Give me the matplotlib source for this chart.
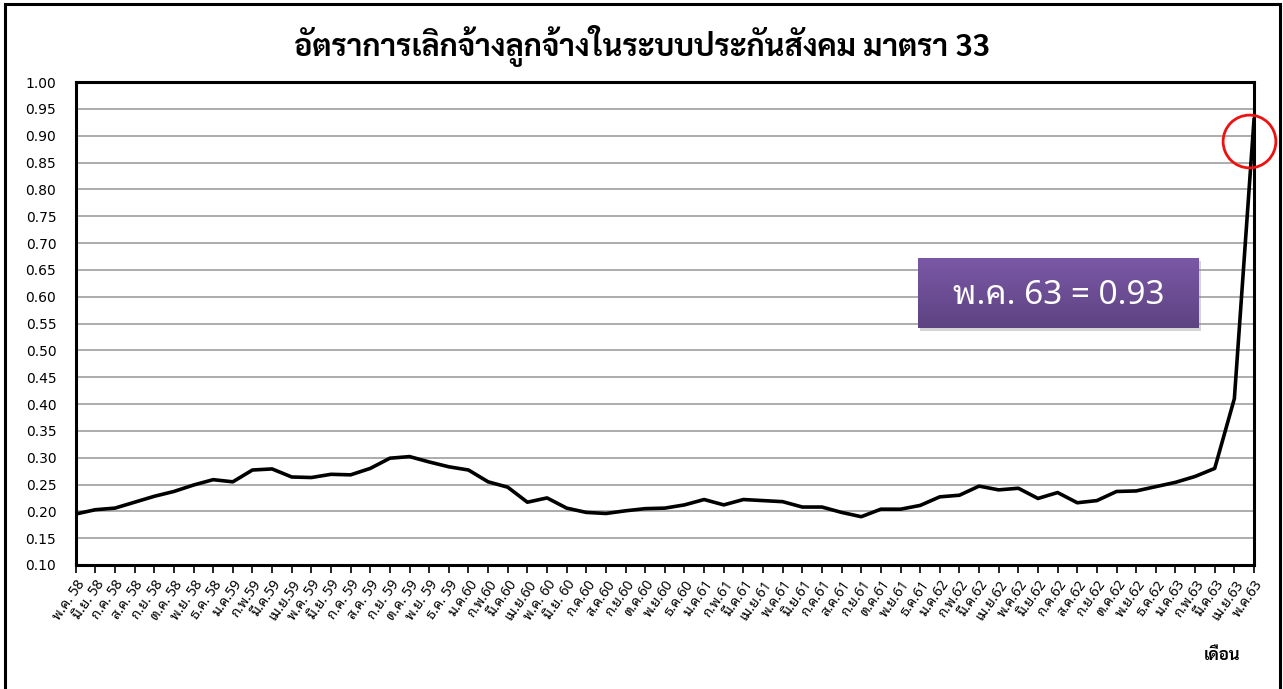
import matplotlib
matplotlib.use("Agg")
from matplotlib import pyplot as plt
from matplotlib import font_manager
from matplotlib.patches import Rectangle
import numpy as np

# monthly labels (Thai short month + Buddhist year)
months = ['พ.ค. 58', 'มิ.ย. 58', 'ก.ค. 58', 'ส.ค. 58', 'ก.ย. 58', 'ต.ค. 58', 'พ.ย. 58', 'ธ.ค. 58',
          'ม.ค.59', 'ก.พ.59', 'มี.ค.59', 'เม.ย.59', 'พ.ค. 59', 'มิ.ย. 59', 'ก.ค. 59', 'ส.ค. 59',
          'ก.ย. 59', 'ต.ค. 59', 'พ.ย. 59', 'ธ.ค. 59', 'ม.ค.60', 'ก.พ.60', 'มี.ค.60', 'เม.ย.60',
          'พ.ค. 60', 'มิ.ย. 60', 'ก.ค.60', 'ส.ค.60', 'ก.ย.60', 'ต.ค.60', 'พ.ย.60', 'ธ.ค.60',
          'ม.ค.61', 'ก.พ.61', 'มี.ค.61', 'เม.ย.61', 'พ.ค.61', 'มิ.ย.61', 'ก.ค.61', 'ส.ค.61',
          'ก.ย.61', 'ต.ค.61', 'พ.ย.61', 'ธ.ค.61', 'ม.ค.62', 'ก.พ.62', 'มี.ค.62', 'เม.ย.62',
          'พ.ค.62', 'มิ.ย.62', 'ก.ค.62', 'ส.ค.62', 'ก.ย.62', 'ต.ค.62', 'พ.ย.62', 'ธ.ค.62',
          'ม.ค.63', 'ก.พ.63', 'มี.ค.63', 'เม.ย.63', 'พ.ค.63']

# termination rate
rate = [0.195, 0.203, 0.206, 0.217, 0.228, 0.237, 0.249, 0.259, 0.255, 0.277,
        0.279, 0.264, 0.263, 0.269, 0.268, 0.280, 0.299, 0.302, 0.292, 0.283,
        0.277, 0.255, 0.245, 0.217, 0.225, 0.206, 0.198, 0.196, 0.201, 0.205,
        0.206, 0.212, 0.222, 0.212, 0.222, 0.220, 0.218, 0.208, 0.208, 0.198,
        0.190, 0.204, 0.204, 0.211, 0.227, 0.230, 0.247, 0.240, 0.243, 0.224,
        0.235, 0.216, 0.220, 0.237, 0.238, 0.246, 0.254, 0.265, 0.280, 0.410,
        0.93]

yticks = np.arange(0.10, 1.001, 0.05)

title = 'อัตราการเลิกจ้างลูกจ้างในระบบประกันสังคม มาตรา 33'
xlabel = 'เดือน'
callout = 'พ.ค. 63 = 0.93'

#pick installed fonts that have Thai glyphs (one with a real bold face for the title)
candidates = ['Noto Sans Thai Looped', 'Noto Sans Thai', 'Sarabun', 'Bai Jamjuree']
faces = font_manager.fontManager.ttflist
thai = 'DejaVu Sans'
for name in candidates:
    if any(f.name == name for f in faces):
        thai = name
        break
thai_bold = thai
for name in candidates:
    if any(f.name == name and f.weight in (700, 'bold') for f in faces):
        thai_bold = name
        break

W, H = 1283, 689
fig = plt.figure(figsize=(W / 100, H / 100), dpi=100)
ax = fig.add_axes([75.7 / W, 1 - 565 / H, (1254 - 75.7) / W, (565 - 82) / H])

x = np.arange(len(rate))
ax.plot(x, rate, color='black', linewidth=2.6, solid_joinstyle='round', zorder=3)

ax.set_xlim(0, len(rate) - 1)
ax.set_ylim(0.10, 1.00)
ax.set_yticks(yticks)
ax.set_yticklabels(['%.2f' % v for v in yticks], family='DejaVu Sans', fontsize=10)
ax.tick_params(axis='y', length=0, pad=14)
ax.set_xticks(x)
ax.set_xticklabels(months, rotation=55, ha='right', va='top', rotation_mode='anchor',
                   family=[thai, 'DejaVu Sans'], fontsize=10)
ax.tick_params(axis='x', length=6, width=1.2, direction='out', pad=3)
ax.grid(axis='y', color='#a6a6a6', linewidth=1.3)
ax.set_axisbelow(True)
for s in ax.spines.values():
    s.set_linewidth(2.2)
    s.set_color('black')

# highlight the last point
ax.plot(x[-1] - 0.25, rate[-1] - 0.04, marker='o', markersize=38, markerfacecolor='none',
        markeredgecolor='#ee1111', markeredgewidth=2, zorder=5, clip_on=False)

# purple callout box with vertical gradient
bx0, by0, bw, bh = 918 / W, 1 - 328 / H, (1199 - 918) / W, (328 - 258) / H
shadow = Rectangle((bx0 + 2 / W, by0 - 3 / H), bw, bh, transform=fig.transFigure,
                   facecolor='#888888', alpha=0.35, edgecolor='none', zorder=6)
fig.patches.append(shadow)
grad = np.linspace(0, 1, 100).reshape(-1, 1)
gax = fig.add_axes([bx0, by0, bw, bh], zorder=7)
top = np.array([0.482, 0.345, 0.651])
bot = np.array([0.365, 0.263, 0.510])
img = top[None, None, :] * (1 - grad[:, :, None]) + bot[None, None, :] * grad[:, :, None]
gax.imshow(img, aspect='auto', extent=[0, 1, 0, 1])
gax.set_axis_off()
gax.text(0.5, 0.47, callout, color='white', fontsize=24, ha='center', va='center',
         family=[thai, 'DejaVu Sans'])

fig.text(0.5, 1 - 46 / H, title, ha='center', va='center', fontsize=22, fontweight='bold',
         family=[thai_bold, 'DejaVu Sans'])
fig.text(1222 / W, 1 - 655 / H, xlabel, ha='center', va='center', fontsize=12,
         fontweight='bold', family=[thai_bold, 'DejaVu Sans'])

# outer frame of the chart
frame = Rectangle((5 / W, -0.02), (1280 - 5) / W, 1.02 - 4 / H, transform=fig.transFigure,
                  fill=False, edgecolor='black', linewidth=2.2)
fig.patches.append(frame)

fig.savefig('out.png', dpi=100)
